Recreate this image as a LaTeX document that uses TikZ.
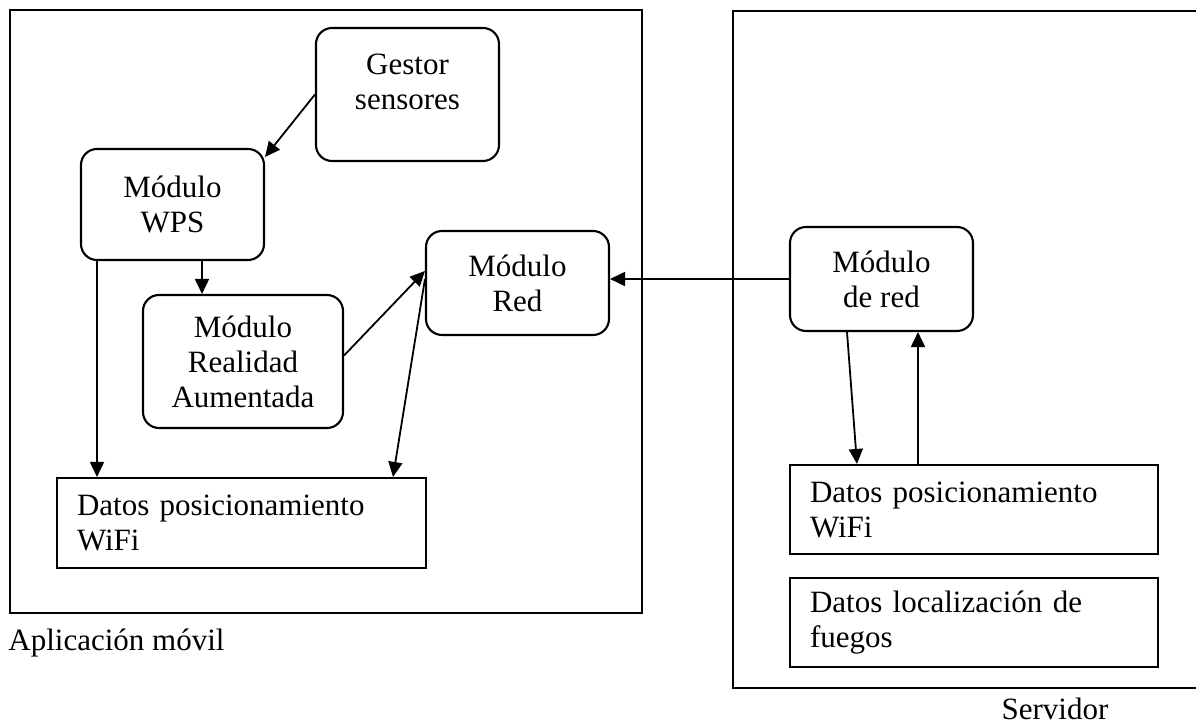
\documentclass[tikz,border=0pt]{standalone}
\usepackage{fontspec}
\setmainfont{Liberation Serif}
\usetikzlibrary{arrows.meta,calc}
\newcommand{\boxfont}{\fontsize{15.5pt}{17.5pt}\selectfont}
\tikzset{
  frame/.style={draw, line width=1.1pt, inner sep=0pt},
  rbox/.style={draw, line width=1.05pt, rounded corners=8pt, align=center, inner sep=0pt, font=\boxfont},
  dbox/.style={draw, line width=1.05pt, inner xsep=10pt, inner ysep=0pt, align=left, font=\boxfont},
  plain/.style={inner sep=0pt, align=center, font=\boxfont},
  arr/.style={line width=0.9pt, -{Triangle[length=7.5pt,width=7pt]}},
}
\begin{document}
\begin{tikzpicture}[x=0.5pt,y=-0.5pt]
\useasboundingbox (0,0) rectangle (1196,726);

% outer frames
\node[frame, minimum width=316pt, minimum height=301.5pt] (movil) at (326,311.5) {};
\node[frame, anchor=north west, minimum width=260pt, minimum height=338.5pt] (servidor) at (732,10) {};

% mobile application modules
\node[rbox, minimum width=91.5pt, minimum height=66.5pt] (gestor) at (407.5,94.5) {};
\node[plain] (gestorT) at (407.5,81.5) {Gestor\\sensores};
\node[rbox, minimum width=91.5pt, minimum height=55.5pt] (wps) at (172.5,204.5) {Módulo\\WPS};
\node[rbox, minimum width=100pt, minimum height=66.5pt] (real) at (243,361.5) {Módulo\\Realidad\\Aumentada};
\node[rbox, minimum width=91.5pt, minimum height=52pt] (red) at (517.5,283) {Módulo\\Red};
\node[dbox, text width=164.5pt, minimum height=45pt] (datosL) at (241.5,523) {Datos posicionamiento\\WiFi};

% server modules
\node[rbox, minimum width=91.5pt, minimum height=52pt] (redS) at (881.5,279) {Módulo\\de red};
\node[dbox, text width=164pt, minimum height=44.5pt] (datosW) at (974,509.5) {Datos posicionamiento\\WiFi};
\node[dbox, text width=164pt, minimum height=44.5pt] (datosF) at (974,622.5) {Datos localización de\\fuegos};

% captions
\node[plain, anchor=base west] (capMovil) at (8,651) {Aplicación móvil};
\node[plain, anchor=base] (capServ) at (1055,720) {Servidor};

% connectors
\draw[arr] (gestor.west) -- ($(wps.north east)+(0,9)$);
\draw[arr] (wps.south -| 202,0) -- (real.north -| 202,0);
\draw[arr] (wps.south -| 97,0) -- (datosL.north -| 97,0);
\draw[arr] ($(real.east)+(0,-6)$) -- ($(red.west)+(0,-12)$);
\draw[arr] ($(red.west)+(0,-4)$) -- (datosL.north -| 393,0);
\draw[arr] (redS.west) -- (redS.west -| red.east);
\draw[arr] (redS.south -| 847,0) -- (datosW.north -| 857,0);
\draw[arr] (datosW.north -| 918,0) -- (redS.south -| 918,0);
\end{tikzpicture}
\end{document}
